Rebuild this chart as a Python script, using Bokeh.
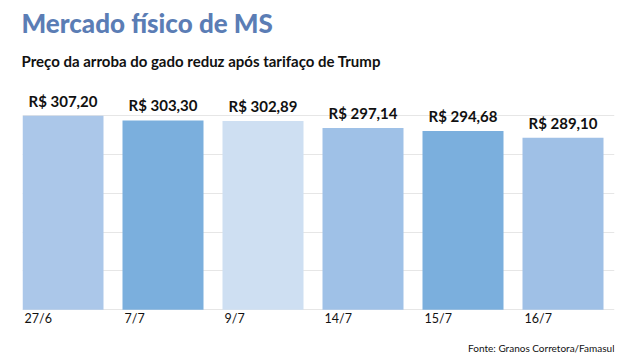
from bokeh.plotting import figure
from bokeh.models import ColumnDataSource, Range1d, Title, FixedTicker
from bokeh.core.properties import value
from bokeh.embed import file_html
from bokeh.resources import INLINE

dates = ["27/6", "7/7", "9/7", "14/7", "15/7", "16/7"]
prices = [307.20, 303.30, 302.89, 297.14, 294.68, 289.10]
price_labels = ["R$ 307,20", "R$ 303,30", "R$ 302,89", "R$ 297,14", "R$ 294,68", "R$ 289,10"]
colors = ["#abc7e9", "#7bafdd", "#cedff2", "#9fc1e7", "#7bafdd", "#9fc0e6"]
grid_values = [147, 179, 211, 243, 275, 307]
source_text = "Fonte: Granos Corretora/Famasul"

FONT = "Lato"
BAR_W = 0.81
X_END = 5.515
Y_START = 110

idx = list(range(len(dates)))
src = ColumnDataSource(dict(
    x=idx, top=prices, label=price_labels, color=colors, date=dates,
    xl=[i - BAR_W / 2 for i in idx], base=[grid_values[0]] * len(idx),
))

p = figure(width=617, height=354, output_backend="svg", toolbar_location=None,
           x_range=Range1d(-BAR_W / 2, X_END), y_range=Range1d(Y_START, 339.6),
           min_border_left=22, min_border_right=3, min_border_top=0, min_border_bottom=0)

p.outline_line_color = None
p.background_fill_color = "white"
p.border_fill_color = "white"
p.xaxis.visible = False
p.yaxis.visible = False
p.xgrid.visible = False
p.ygrid.ticker = FixedTicker(ticks=grid_values)
p.ygrid.grid_line_color = "#e6e6e6"
p.ygrid.grid_line_width = 1

p.vbar(x="x", top="top", bottom="base", width=BAR_W, color="color", line_color=None, source=src)

p.text(x="x", y="top", text="label", source=src, text_align="center", text_baseline="bottom",
       y_offset=-6, text_font=value(FONT), text_font_style="bold", text_font_size="15px",
       text_color="#111111")

p.text(x="xl", y="base", text="date", source=src, text_align="left", text_baseline="top",
       x_offset=2, y_offset=1, text_font=value(FONT), text_font_size="12.5px", text_color="#111111")

p.text(x=[X_END], y=[Y_START], text=[source_text], text_align="right", text_baseline="alphabetic",
       y_offset=-7, text_font=value(FONT), text_font_size="10px", text_color="#111111")

# titles (first added is closest to the frame)
p.add_layout(Title(text="Preço da arroba do gado reduz após tarifaço de Trump", text_font=FONT,
                   text_font_style="bold", text_font_size="15px", text_color="#111111",
                   offset=-1, standoff=14), "above")
p.add_layout(Title(text="Mercado físico de MS", text_font="Lato Black", text_font_style="bold",
                   text_font_size="26px", text_color="#5b7db5", offset=-1, standoff=8), "above")

open("out.html", "w").write(file_html(p, INLINE))
